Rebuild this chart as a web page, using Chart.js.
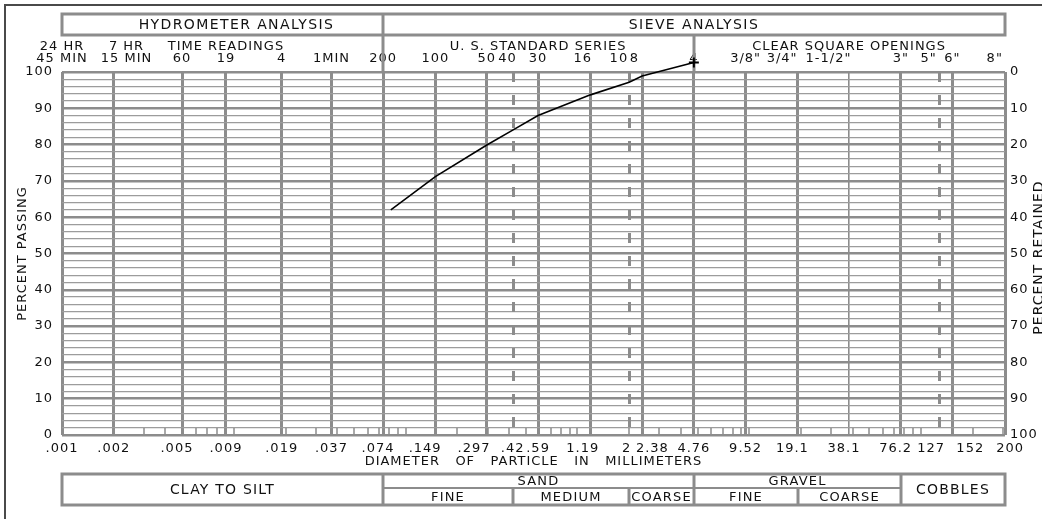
<!DOCTYPE html>
<html>
<head>
<meta charset="utf-8">
<title>Gradation curve</title>
<script src="https://cdn.jsdelivr.net/npm/chart.js@4.4.1/dist/chart.umd.min.js"></script>
<style>
  html, body { margin: 0; padding: 0; background: #fff; }
  #wrap { width: 1042px; height: 519px; }
</style>
</head>
<body>
<div id="wrap"><canvas id="gradation"></canvas></div>
<script>
// sample: particle size (mm) vs percent passing
const sampleSizes = [0.082, 0.149, 0.297, 0.42, 0.59, 1.19, 2, 2.38, 4.76];
const percentPassing = [62.0, 71.2, 79.9, 84.0, 88.0, 93.7, 97.2, 98.9, 102.6];

// grain size scale (mm); the last line is the right edge of the form, printed 200 / 8"
const xMin = 0.001;
const xEdge = 308;
const gridSizes = [0.001, 0.002, 0.005, 0.009, 0.019, 0.037, 0.074, 0.149, 0.297, 0.42, 0.59,
  1.19, 2, 2.38, 4.76, 9.52, 19.1, 38.1, 76.2, 127, 152, xEdge];
const diameterLabels = ['.001', '.002', '.005', '.009', '.019', '.037', '.074', '.149', '.297', '.42', '.59',
  '1.19', '2', '2.38', '4.76', '9.52', '19.1', '38.1', '76.2', '127', '152', '200'];
const readingLabels = [['24 HR', '45 MIN'], ['7 HR', '15 MIN'], '60', ['TIME READINGS', '19'], '4', '1MIN',
  '200', '100', '50', '40', ['U. S. STANDARD SERIES', '30'], '16', '10', '8', '4',
  '3/8"', '3/4"', ['CLEAR SQUARE OPENINGS', '1-1/2"'], '3"', '5"', '6"', '8"'];
const dashedSizes = [0.42, 2, 127];
const thinSizes = [38.1];

// soil classification strip under the chart
const soilZones = ['CLAY TO SILT', 'SAND', 'GRAVEL', 'COBBLES'];
const zoneBounds = [xMin, 0.074, 4.76, 76.2, xEdge];
const subZones = [[], ['FINE', 'MEDIUM', 'COARSE'], ['FINE', 'COARSE'], []];
const subBounds = [[], [0.074, 0.42, 2, 4.76], [4.76, 19.1, 76.2], []];

const GRID = '#8c8c8c';
const GRID_LIGHT = '#9c9c9c';
const FRAME = '#4a4a4a';
const INK = '#111';
const FONT = 'DejaVu Sans';
const SPACING = 1;  // px between letters, the form lettering is wide

// crowded labels are set off their line the way the form prints them (px, + is right)
const bottomShift = {'.005': -6, '.074': -6, '.149': -10, '.297': -14, '1.19': -8, '2': -3,
  '2.38': 10, '19.1': -5, '38.1': -4, '76.2': -6, '127': -7, '152': 18, '200': 5};
const topShift = {'7 HR': 13, '15 MIN': 13, '40': -5, '16': -7, '10': -11, '8': -7,
  '3/4"': -16, '1-1/2"': -20, '5"': -10, '8"': -10};

Chart.defaults.font.family = FONT;
Chart.defaults.color = INK;

// pad a centred label with spaces so its ink moves by about dx pixels
function nudge(text, dx) {
  if (!dx) return text;
  const pad = ' '.repeat(Math.round(Math.abs(dx) / ((4.13 + SPACING) / 2)));
  return dx > 0 ? pad + text : text + pad;
}
const shiftLabel = (label, shifts) =>
  Array.isArray(label) ? label.map(l => nudge(l, shifts[l])) : nudge(label, shifts[label]);

function strokeLine(ctx, x1, y1, x2, y2) {
  ctx.beginPath();
  ctx.moveTo(x1, y1);
  ctx.lineTo(x2, y2);
  ctx.stroke();
}

const formPlugin = {
  id: 'form',
  beforeDraw(chart) {
    chart.ctx.letterSpacing = SPACING + 'px';
  },
  beforeDatasetsDraw(chart) {
    const {ctx, chartArea: a} = chart;
    const x = chart.scales.x;
    const px = v => Math.round(x.getPixelForValue(v));
    ctx.save();

    // dashed sieve lines (No. 40, No. 10, 5")
    ctx.strokeStyle = GRID;
    ctx.lineWidth = 3;
    ctx.setLineDash([10, 13]);
    dashedSizes.forEach(v => strokeLine(ctx, px(v) + 0.5, a.top, px(v) + 0.5, a.bottom));
    ctx.setLineDash([]);

    // short log subdivisions in the lowest band
    ctx.lineWidth = 1.5;
    for (let e = -3; e <= 2; e++) {
      for (let m = 1; m <= 9; m++) {
        const v = m * Math.pow(10, e);
        if (v <= xMin || v >= xEdge) continue;
        strokeLine(ctx, px(v), a.bottom, px(v), a.bottom - 7);
      }
    }

    // outer frame
    ctx.strokeStyle = FRAME;
    ctx.lineWidth = 2;
    ctx.beginPath();
    ctx.moveTo(5, chart.height + 2);
    ctx.lineTo(5, 5);
    ctx.lineTo(chart.width + 2, 5);
    ctx.stroke();

    // header boxes
    const left = px(xMin), right = px(xEdge);
    const hTop = a.top - 58, hBot = a.top - 37;
    ctx.strokeStyle = GRID;
    ctx.lineWidth = 3;
    ctx.strokeRect(left, hTop, right - left, hBot - hTop);
    strokeLine(ctx, px(0.074), hTop, px(0.074), a.top);
    strokeLine(ctx, px(4.76), hBot, px(4.76), a.top);

    ctx.fillStyle = INK;
    ctx.textAlign = 'center';
    ctx.textBaseline = 'middle';
    ctx.font = '14px ' + FONT;
    ctx.letterSpacing = '1.4px';
    ctx.fillText('HYDROMETER ANALYSIS', (left + px(0.074)) / 2 + 14, (hTop + hBot) / 2 + 1);
    ctx.fillText('SIEVE ANALYSIS', (px(0.074) + right) / 2, (hTop + hBot) / 2 + 1);

    // classification strip
    const bTop = a.bottom + 39, bBot = a.bottom + 70, bMid = a.bottom + 53;
    ctx.strokeRect(left, bTop, right - left, bBot - bTop);
    ctx.letterSpacing = '1.2px';
    soilZones.forEach((name, i) => {
      const x1 = px(zoneBounds[i]), x2 = px(zoneBounds[i + 1]);
      if (i > 0) strokeLine(ctx, x1, bTop, x1, bBot);
      if (subZones[i].length) {
        ctx.lineWidth = 2;
        strokeLine(ctx, x1, bMid, x2, bMid);
        ctx.lineWidth = 3;
        ctx.font = '13px ' + FONT;
        ctx.fillText(name, (x1 + x2) / 2, (bTop + bMid) / 2 + 1);
        subZones[i].forEach((sub, j) => {
          const s1 = px(subBounds[i][j]), s2 = px(subBounds[i][j + 1]);
          if (j > 0) strokeLine(ctx, s1, bMid, s1, bBot);
          ctx.fillText(sub, (s1 + s2) / 2, (bMid + bBot) / 2 + 1);
        });
      } else {
        ctx.font = '14px ' + FONT;
        ctx.fillText(name, (x1 + x2) / 2, (bTop + bBot) / 2 + 1);
      }
    });

    // right hand axis title, read bottom to top like the left one
    ctx.font = '14px ' + FONT;
    ctx.letterSpacing = SPACING + 'px';
    ctx.translate(chart.width - 3, (a.top + a.bottom) / 2 + 4);
    ctx.rotate(-Math.PI / 2);
    ctx.fillText('PERCENT RETAINED', 0, 0);
    ctx.restore();
  },
  afterDatasetsDraw(chart) {
    // the end marker sits above the 100 line, so draw it without the area check
    const pts = chart.getDatasetMeta(0).data;
    pts[pts.length - 1].draw(chart.ctx);
  }
};

new Chart(document.getElementById('gradation'), {
  type: 'line',
  data: {
    datasets: [{
      data: sampleSizes.map((s, i) => ({x: s, y: percentPassing[i]})),
      borderColor: '#000',
      borderWidth: 1.6,
      tension: 0,
      clip: false,
      pointStyle: 'cross',
      pointRadius: ctx => (ctx.dataIndex === sampleSizes.length - 1 ? 5 : 0),
      pointBorderWidth: 2,
      pointBorderColor: '#000',
      xAxisID: 'x',
      yAxisID: 'y'
    }]
  },
  options: {
    responsive: true,
    maintainAspectRatio: false,
    animation: false,
    layout: {padding: 0},
    plugins: {legend: {display: false}, tooltip: {enabled: false}},
    scales: {
      x: {
        type: 'logarithmic',
        position: 'bottom',
        min: xMin,
        max: xEdge,
        afterBuildTicks: s => { s.ticks = gridSizes.map(v => ({value: v})); },
        afterFit: s => { s.height = 84; },
        ticks: {
          autoSkip: false, maxRotation: 0, minRotation: 0, padding: 6,
          font: {size: 13}, color: INK,
          callback: (v, i) => shiftLabel(diameterLabels[i], bottomShift)
        },
        grid: {
          drawTicks: false,
          color: GRID,
          lineWidth: ctx => {
            const v = gridSizes[ctx.index];
            if (dashedSizes.includes(v)) return 0;
            return thinSizes.includes(v) ? 1.6 : 3;
          }
        },
        border: {display: false},
        title: {
          display: true,
          text: 'DIAMETER   OF   PARTICLE   IN   MILLIMETERS',
          font: {size: 13},
          color: INK,
          padding: {top: 0, bottom: 50}
        }
      },
      xTop: {
        type: 'logarithmic',
        position: 'top',
        min: xMin,
        max: xEdge,
        afterBuildTicks: s => { s.ticks = gridSizes.map(v => ({value: v})); },
        afterFit: s => { s.height = 72; },
        ticks: {
          autoSkip: false, maxRotation: 0, minRotation: 0, padding: 7,
          font: {size: 13, lineHeight: 0.92}, color: INK,
          callback: (v, i) => shiftLabel(readingLabels[i], topShift)
        },
        grid: {display: false, drawTicks: false},
        border: {display: false}
      },
      y: {
        position: 'left',
        min: 0,
        max: 100,
        afterFit: s => { s.width = 62; },
        ticks: {
          stepSize: 2, maxTicksLimit: 101, autoSkip: false, padding: 9,
          font: {size: 13}, color: INK,
          callback: v => (v % 10 === 0 ? v : '')
        },
        grid: {
          drawTicks: false,
          color: ctx => (ctx.tick.value % 10 === 0 ? GRID : GRID_LIGHT),
          lineWidth: ctx => (ctx.tick.value % 10 === 0 ? 2.5 : 1.3)
        },
        border: {display: false},
        title: {display: true, text: 'PERCENT PASSING', font: {size: 13}, color: INK, padding: {top: 15}}
      },
      yRetained: {
        position: 'right',
        reverse: true,
        min: 0,
        max: 100,
        afterFit: s => { s.width = 37; },
        ticks: {stepSize: 10, padding: 5, font: {size: 13}, color: INK},
        grid: {drawOnChartArea: false, drawTicks: false},
        border: {display: false}
      }
    }
  },
  plugins: [formPlugin]
});
</script>
</body>
</html>
